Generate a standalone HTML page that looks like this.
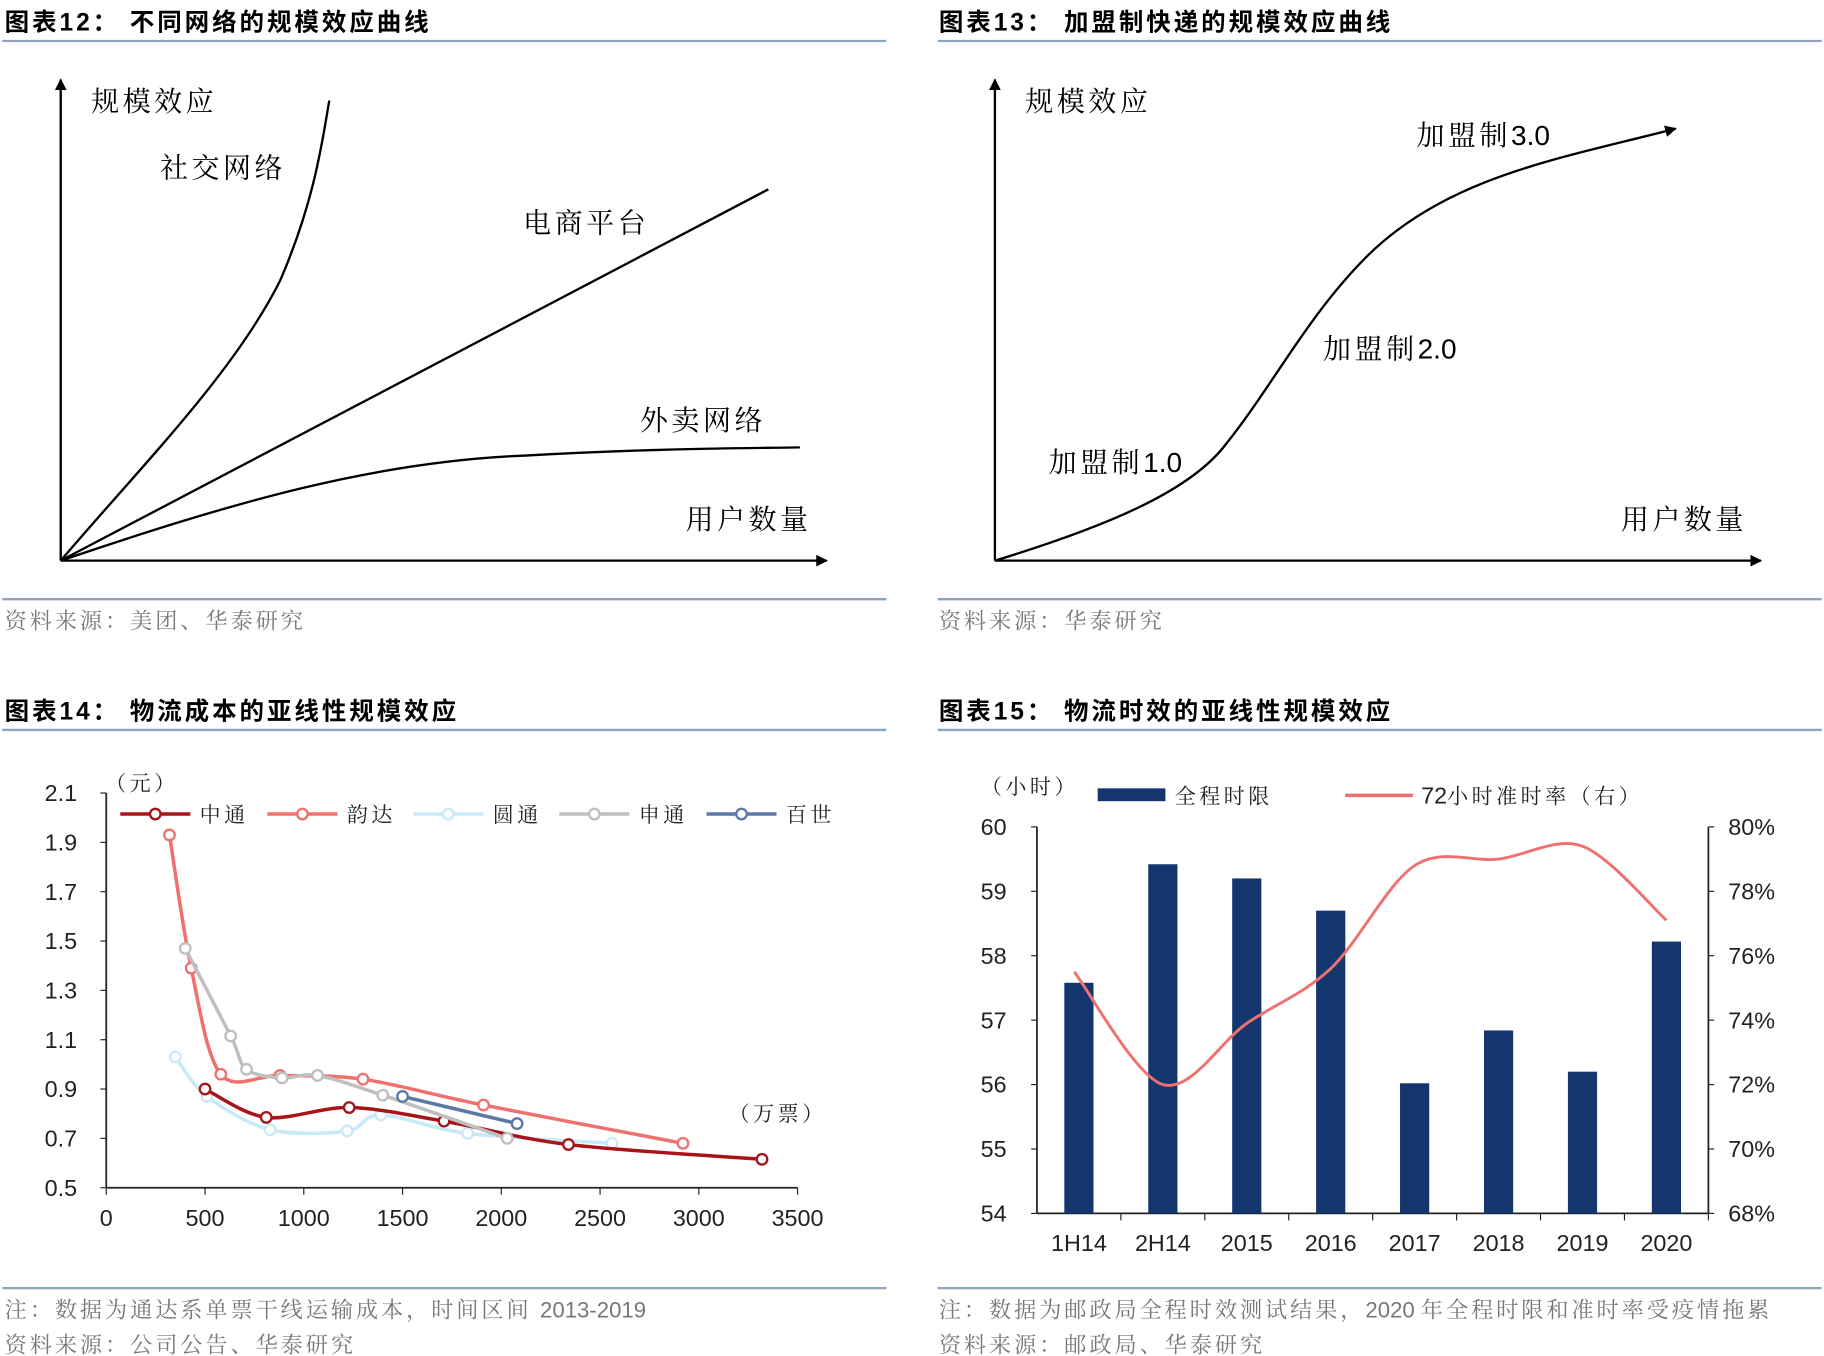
<!DOCTYPE html>
<html><head><meta charset="utf-8"><style>
html,body{margin:0;padding:0;background:#fff}
svg{display:block}
text{font-family:"Liberation Sans","Noto Sans CJK SC",sans-serif}
.t{font-weight:bold;font-size:21px;letter-spacing:2.5px;fill:#000;font-family:"Liberation Sans","Noto Sans CJK SC",sans-serif}
.s{font-size:19px;letter-spacing:2.5px;fill:#777;font-family:"Liberation Serif","Noto Serif CJK SC",serif}
.lab{font-size:24px;letter-spacing:3px;fill:#000;font-family:"Liberation Serif","Noto Serif CJK SC",serif}
.tk{font-size:20px;fill:#222}
.lg{font-size:18px;letter-spacing:3px;fill:#222;font-family:"Liberation Serif","Noto Serif CJK SC",serif}
</style></head><body>
<svg id="s" width="1824" height="1356" viewBox="0 0 1562 1161" xmlns="http://www.w3.org/2000/svg">
<defs><marker id="ar" markerWidth="10" markerHeight="10" refX="9" refY="5" orient="auto" markerUnits="userSpaceOnUse"><path d="M0,0 L10,5 L0,10 z" fill="#000"/></marker></defs>
<text class="t" x="4" y="26">图表12：  不同网络的规模效应曲线</text>
<text class="t" x="804" y="26">图表13：  加盟制快递的规模效应曲线</text>
<text class="t" x="4" y="616">图表14：  物流成本的亚线性规模效应</text>
<text class="t" x="804" y="616">图表15：  物流时效的亚线性规模效应</text>
<g stroke="#8ea3c2" stroke-width="2">
<line x1="2" y1="35" x2="759" y2="35"/><line x1="803" y1="35" x2="1560" y2="35"/>
<line x1="2" y1="513" x2="759" y2="513"/><line x1="803" y1="513" x2="1560" y2="513"/>
<line x1="2" y1="625" x2="759" y2="625"/><line x1="803" y1="625" x2="1560" y2="625"/>
<line x1="2" y1="1103" x2="759" y2="1103"/><line x1="803" y1="1103" x2="1560" y2="1103"/>
</g>
<text class="s" x="4" y="538">资料来源：美团、华泰研究</text>
<text class="s" x="804" y="538">资料来源：华泰研究</text>
<text class="s" x="4" y="1128">注：数据为通达系单票干线运输成本，时间区间 <tspan font-family="Liberation Sans" letter-spacing="0">2013-2019</tspan></text>
<text class="s" x="4" y="1158">资料来源：公司公告、华泰研究</text>
<text class="s" x="804" y="1128" letter-spacing="1.8">注：数据为邮政局全程时效测试结果，<tspan font-family="Liberation Sans" letter-spacing="0">2020 </tspan>年全程时限和准时率受疫情拖累</text>
<text class="s" x="804" y="1158">资料来源：邮政局、华泰研究</text>

<g stroke="#000" stroke-width="2" fill="none">
<line x1="52" y1="480" x2="52" y2="68" marker-end="url(#ar)"/>
<line x1="52" y1="480" x2="708" y2="480" marker-end="url(#ar)"/>
<path d="M52,480 C120,400 200,320 240,240 C270,170 276,120 282,86"/>
<line x1="52" y1="480" x2="658" y2="162"/>
<path d="M52,480 C200,430 320,395 450,390 C560,384 620,384 685,383"/>
</g>
<text class="lab" x="78" y="95">规模效应</text>
<text class="lab" x="137" y="152">社交网络</text>
<text class="lab" x="448" y="199">电商平台</text>
<text class="lab" x="548" y="368">外卖网络</text>
<text class="lab" x="587" y="453">用户数量</text>

<g stroke="#000" stroke-width="2" fill="none">
<line x1="852" y1="480" x2="852" y2="68" marker-end="url(#ar)"/>
<line x1="852" y1="480" x2="1508" y2="480" marker-end="url(#ar)"/>
<path d="M852,480 C950,450 1020,420 1050,380 C1090,330 1120,270 1170,220 C1240,150 1340,135 1435,110" marker-end="url(#ar)"/>
</g>
<text class="lab" x="878" y="95">规模效应</text>
<text class="lab" x="1213" y="124">加盟制<tspan font-family="Liberation Sans" letter-spacing="0">3.0</tspan></text>
<text class="lab" x="1133" y="307">加盟制<tspan font-family="Liberation Sans" letter-spacing="0">2.0</tspan></text>
<text class="lab" x="898" y="404">加盟制<tspan font-family="Liberation Sans" letter-spacing="0">1.0</tspan></text>
<text class="lab" x="1388" y="453">用户数量</text>

<g id="c14"></g>
<g id="c15"></g>
</svg>
<script>
var NS="http://www.w3.org/2000/svg";
function el(p,t,a,txt){var e=document.createElementNS(NS,t);for(var k in a)e.setAttribute(k,a[k]);if(txt!=null)e.textContent=txt;p.appendChild(e);return e;}
function smooth(pts){var d="M"+pts[0][0]+","+pts[0][1];for(var i=0;i<pts.length-1;i++){var p0=pts[i-1]||pts[i],p1=pts[i],p2=pts[i+1],p3=pts[i+2]||p2;var t=0.16;
d+=" C"+(p1[0]+(p2[0]-p0[0])*t)+","+(p1[1]+(p2[1]-p0[1])*t)+" "+(p2[0]-(p3[0]-p1[0])*t)+","+(p2[1]-(p3[1]-p1[1])*t)+" "+p2[0]+","+p2[1];}return d;}
var g=document.getElementById("c14");
function X(v){return 91+v*592/3500;} function Y(v){return 1017-(v-0.5)*211.25;}
el(g,"line",{x1:91,y1:679,x2:91,y2:1017,stroke:"#222","stroke-width":1.5});
el(g,"line",{x1:91,y1:1017,x2:683,y2:1017,stroke:"#222","stroke-width":1.5});
for(var v=0.5;v<2.15;v+=0.2){var y=Y(v);el(g,"line",{x1:86,y1:y,x2:91,y2:y,stroke:"#222"});el(g,"text",{class:"tk",x:66,y:y+7,"text-anchor":"end"},v.toFixed(1));}
for(var v=0;v<=3500;v+=500){var x=X(v);el(g,"line",{x1:x,y1:1017,x2:x,y2:1023,stroke:"#222"});el(g,"text",{class:"tk",x:x,y:1050,"text-anchor":"middle"},v);}
el(g,"text",{class:"lg",x:90,y:677},"（元）");
el(g,"text",{class:"lg",x:624,y:960},"（万票）");
var S=[
["#f07070",3,[[320,1.93],[430,1.39],[580,0.96],[880,0.955],[1300,0.94],[1910,0.835],[2920,0.68]]],
["#c8e9f8",3,[[350,1.03],[510,0.87],[830,0.735],[1220,0.73],[1390,0.795],[1830,0.72],[2560,0.68]]],
["#a8141a",3,[[500,0.90],[810,0.785],[1230,0.825],[1710,0.77],[2340,0.675],[3320,0.615]]],
["#bfbfbf",3,[[400,1.47],[630,1.115],[710,0.98],[890,0.945],[1070,0.955],[1400,0.875],[2030,0.70]]],
["#5b79a6",3,[[1500,0.87],[2080,0.76]]]];
S.forEach(function(s){var p=s[2].map(function(q){return [X(q[0]),Y(q[1])];});
el(g,"path",{d:smooth(p),fill:"none",stroke:s[0],"stroke-width":s[1]});
p.forEach(function(q){el(g,"circle",{cx:q[0],cy:q[1],r:4.5,fill:"#fff",stroke:s[0],"stroke-width":2});});});
var L=[["#a8141a","中通",103],["#f07070","韵达",229],["#c8e9f8","圆通",354],["#bfbfbf","申通",479],["#5b79a6","百世",605]];
L.forEach(function(l){el(g,"line",{x1:l[2],y1:697,x2:l[2]+60,y2:697,stroke:l[0],"stroke-width":3});el(g,"circle",{cx:l[2]+30,cy:697,r:4.5,fill:"#fff",stroke:l[0],"stroke-width":2});el(g,"text",{class:"lg",x:l[2]+68,y:704},l[1]);});
var h=document.getElementById("c15");
function YL(v){return 1039-(v-54)*331/6;} function YR(v){return 1039-(v-68)*331/12;}
el(h,"line",{x1:888,y1:708,x2:888,y2:1039,stroke:"#222","stroke-width":1.5});
el(h,"line",{x1:1463,y1:708,x2:1463,y2:1039,stroke:"#222","stroke-width":1.5});
el(h,"line",{x1:888,y1:1039,x2:1463,y2:1039,stroke:"#222","stroke-width":1.5});
for(var v=54;v<=60;v++){var y=YL(v);el(h,"line",{x1:883,y1:y,x2:888,y2:y,stroke:"#222"});el(h,"text",{class:"tk",x:862,y:y+7,"text-anchor":"end"},v);}
for(var v=68;v<=80;v+=2){var y=YR(v);el(h,"line",{x1:1463,y1:y,x2:1468,y2:y,stroke:"#222"});el(h,"text",{class:"tk",x:1480,y:y+7},v+"%");}
var cats=["1H14","2H14","2015","2016","2017","2018","2019","2020"],bv=[57.58,59.42,59.2,58.7,56.02,56.84,56.2,58.22],lv=[75.5,72.0,73.9,75.6,78.8,79.0,79.4,77.1];
var w=575/8,lp=[];
for(var i=0;i<8;i++){var cx=888+w*(i+0.5);el(h,"line",{x1:888+w*(i+1),y1:1039,x2:888+w*(i+1),y2:1045,stroke:"#222"});
el(h,"rect",{x:cx-12.5,y:YL(bv[i]),width:25,height:1039-YL(bv[i]),fill:"#13366f"});
el(h,"text",{class:"tk",x:cx,y:1071,"text-anchor":"middle"},cats[i]);lp.push([cx,YR(lv[i])]);}
lp[0][0]-=4;
el(h,"path",{d:smooth(lp),fill:"none",stroke:"#f07070","stroke-width":2.5});
el(h,"text",{class:"lg",x:840,y:680},"（小时）");
el(h,"rect",{x:940,y:675,width:58,height:11,fill:"#13366f"});
el(h,"text",{class:"lg",x:1006,y:688},"全程时限");
el(h,"line",{x1:1152,y1:681,x2:1210,y2:681,stroke:"#f07070","stroke-width":3});
var t=el(h,"text",{class:"lg",x:1217,y:688},null);
el(t,"tspan",{"font-family":"Liberation Sans","letter-spacing":"0","font-size":"20"},"72");
el(t,"tspan",{},"小时准时率（右）");
</script>
</body></html>
